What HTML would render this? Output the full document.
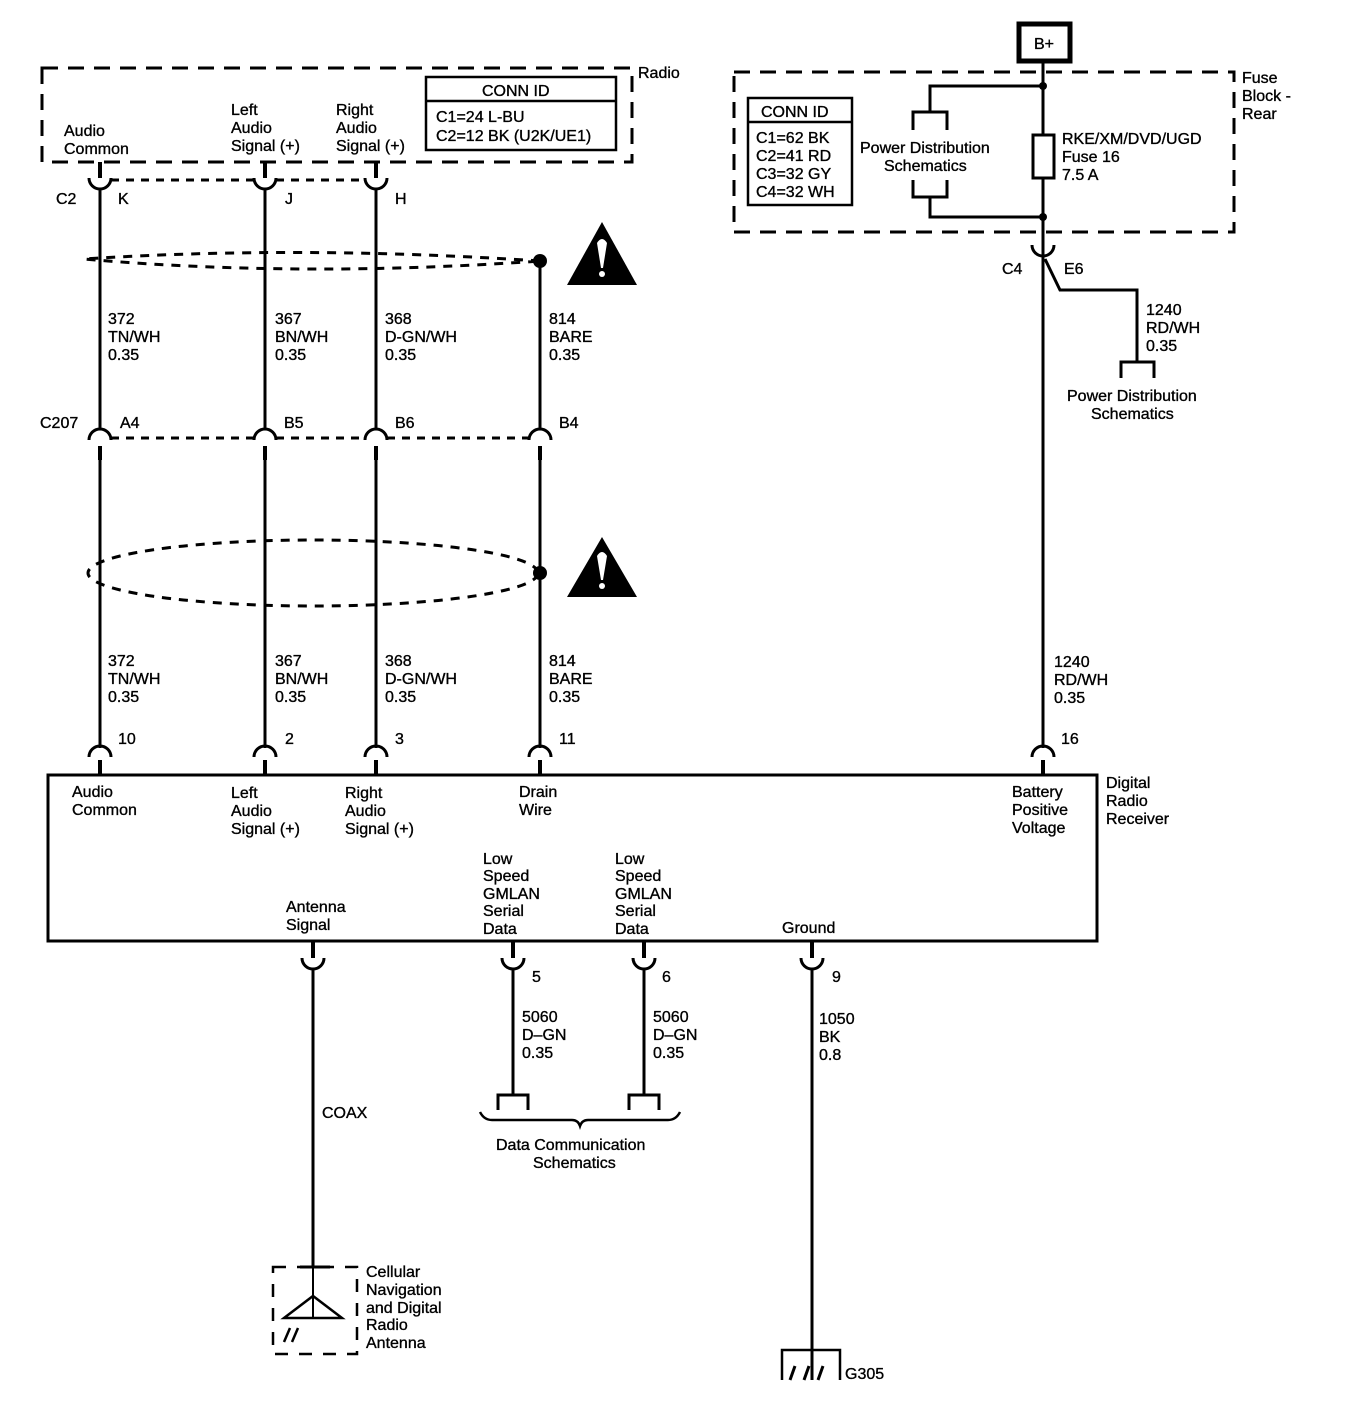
<!DOCTYPE html>
<html><head><meta charset="utf-8"><style>
html,body{margin:0;padding:0;background:#fff}
svg{display:block}
text{font-family:"Liberation Sans",Arial,sans-serif;font-size:16px;fill:#000;stroke:#000;stroke-width:0.35}
</style></head><body>
<svg width="1360" height="1408" viewBox="0 0 1360 1408" xmlns="http://www.w3.org/2000/svg">
<g fill="none" stroke="#000" stroke-width="3">
<rect x="42" y="68" width="590" height="94" stroke-dasharray="16,10"/>
<rect x="426" y="77" width="190" height="73" stroke-width="2.5"/>
<line x1="426" y1="101" x2="616" y2="101" stroke-width="2.5"/>
<g stroke-width="4">
<line x1="100" y1="162" x2="100" y2="178"/><line x1="265" y1="162" x2="265" y2="178"/><line x1="376" y1="162" x2="376" y2="178"/>
</g>
<path d="M89 178 A11 11 0 0 0 111 178 M254 178 A11 11 0 0 0 276 178 M365 178 A11 11 0 0 0 387 178"/>
<line x1="111" y1="180" x2="254" y2="180" stroke-dasharray="8,7"/>
<line x1="276" y1="180" x2="365" y2="180" stroke-dasharray="8,7"/>
<line x1="100" y1="188" x2="100" y2="430"/><line x1="265" y1="188" x2="265" y2="430"/><line x1="376" y1="188" x2="376" y2="430"/>
<line x1="540" y1="261" x2="540" y2="430"/>
<path d="M540 261 Q300 245 84 259 Q300 278 540 261" stroke-dasharray="9,8"/>
<path d="M89 440 A11 11 0 0 1 111 440 M254 440 A11 11 0 0 1 276 440 M365 440 A11 11 0 0 1 387 440 M529 440 A11 11 0 0 1 551 440"/>
<line x1="111" y1="438" x2="254" y2="438" stroke-dasharray="8,7"/>
<line x1="276" y1="438" x2="365" y2="438" stroke-dasharray="8,7"/>
<line x1="387" y1="438" x2="529" y2="438" stroke-dasharray="8,7"/>
<g stroke-width="4">
<line x1="100" y1="446" x2="100" y2="460"/><line x1="265" y1="446" x2="265" y2="460"/><line x1="376" y1="446" x2="376" y2="460"/><line x1="540" y1="446" x2="540" y2="460"/>
</g>
<line x1="100" y1="455" x2="100" y2="748"/><line x1="265" y1="455" x2="265" y2="748"/><line x1="376" y1="455" x2="376" y2="748"/><line x1="540" y1="455" x2="540" y2="748"/>
<ellipse cx="313" cy="573" rx="225" ry="33" stroke-dasharray="9,8"/>
<path d="M89 757 A11 11 0 0 1 111 757 M254 757 A11 11 0 0 1 276 757 M365 757 A11 11 0 0 1 387 757 M529 757 A11 11 0 0 1 551 757 M1032 757 A11 11 0 0 1 1054 757"/>
<g stroke-width="4">
<line x1="100" y1="760" x2="100" y2="776"/><line x1="265" y1="760" x2="265" y2="776"/><line x1="376" y1="760" x2="376" y2="776"/><line x1="540" y1="760" x2="540" y2="776"/><line x1="1043" y1="760" x2="1043" y2="776"/>
</g>
<rect x="48" y="775" width="1049" height="166"/>
<g stroke-width="4">
<line x1="313" y1="941" x2="313" y2="958"/><line x1="513" y1="941" x2="513" y2="958"/><line x1="644" y1="941" x2="644" y2="958"/><line x1="812" y1="941" x2="812" y2="958"/>
</g>
<path d="M302 958 A11 11 0 0 0 324 958 M502 958 A11 11 0 0 0 524 958 M633 958 A11 11 0 0 0 655 958 M801 958 A11 11 0 0 0 823 958"/>
<line x1="313" y1="968" x2="313" y2="1267"/>
<line x1="513" y1="968" x2="513" y2="1095"/>
<line x1="644" y1="968" x2="644" y2="1095"/>
<line x1="812" y1="968" x2="812" y2="1380"/>
<path d="M498 1110 V1095 H528 V1110 M629 1110 V1095 H659 V1110"/>
<path d="M480 1112 Q484 1120 492 1120 H572 Q578 1120 580 1126 Q582 1120 588 1120 H668 Q676 1120 680 1112" stroke-width="2.5"/>
<rect x="273" y="1267" width="84" height="87" stroke-dasharray="13,11" stroke-width="2.5"/>
<line x1="300" y1="1267" x2="330" y2="1267"/>
<line x1="313" y1="1267" x2="313" y2="1318" stroke-width="2"/>
<path d="M284 1318 L313 1296 L342 1318 Z" stroke-width="2.5"/>
<path d="M284 1342 l6 -14 M292 1342 l6 -14" stroke-width="2.5"/>
<path d="M782 1380 V1350 H840 V1380" stroke-width="2.5"/>
<path d="M790 1380 l5 -14 M804 1380 l5 -14 M818 1380 l5 -14" stroke-width="3"/>
<rect x="1019" y="24" width="51" height="37" stroke-width="5"/>
<rect x="734" y="72" width="500" height="160" stroke-dasharray="16,10"/>
<rect x="748" y="98" width="104" height="107" stroke-width="2.5"/>
<line x1="748" y1="122" x2="852" y2="122" stroke-width="2.5"/>
<line x1="1043" y1="62" x2="1043" y2="748"/>
<path d="M1043 86 H930 V112 M913 130 V112 H947 V130 M913 180 V197 H947 V180 M930 197 V217 H1043"/>
<rect x="1033" y="135" width="21" height="43" fill="#fff"/>
<path d="M1032 245 A11 11 0 0 0 1054 245"/>
<path d="M1045 259 L1060 290 H1137 V362 M1121 378 V362 H1154 V378"/>
</g>
<g fill="#000">
<circle cx="540" cy="261" r="7"/><circle cx="540" cy="573" r="7"/>
<circle cx="1043" cy="86" r="4"/><circle cx="1043" cy="217" r="4"/>
<path d="M602 222 L637 285 L567 285 Z"/><path d="M602 537 L637 597 L567 597 Z"/>
</g>
<g fill="#fff">
<path d="M597 243 Q602 235 607 243 L603 268 H601 Z"/><circle cx="602" cy="274" r="3"/>
<path d="M597 556 Q602 548 607 556 L603 580 H601 Z"/><circle cx="602" cy="586" r="3"/>
</g>
<text x="638" y="78">Radio</text>
<text x="482" y="96">CONN ID</text>
<text x="436" y="122">C1=24 L-BU</text>
<text x="436" y="141">C2=12 BK (U2K/UE1)</text>
<text x="64" y="136">Audio</text><text x="64" y="154">Common</text>
<text x="231" y="115">Left</text><text x="231" y="133">Audio</text><text x="231" y="151">Signal (+)</text>
<text x="336" y="115">Right</text><text x="336" y="133">Audio</text><text x="336" y="151">Signal (+)</text>
<text x="56" y="204">C2</text><text x="118" y="204">K</text><text x="285" y="204">J</text><text x="395" y="204">H</text>
<text x="108" y="324">372</text><text x="108" y="342">TN/WH</text><text x="108" y="360">0.35</text>
<text x="275" y="324">367</text><text x="275" y="342">BN/WH</text><text x="275" y="360">0.35</text>
<text x="385" y="324">368</text><text x="385" y="342">D-GN/WH</text><text x="385" y="360">0.35</text>
<text x="549" y="324">814</text><text x="549" y="342">BARE</text><text x="549" y="360">0.35</text>
<text x="40" y="428">C207</text><text x="120" y="428">A4</text><text x="284" y="428">B5</text><text x="395" y="428">B6</text><text x="559" y="428">B4</text>
<text x="108" y="666">372</text><text x="108" y="684">TN/WH</text><text x="108" y="702">0.35</text>
<text x="275" y="666">367</text><text x="275" y="684">BN/WH</text><text x="275" y="702">0.35</text>
<text x="385" y="666">368</text><text x="385" y="684">D-GN/WH</text><text x="385" y="702">0.35</text>
<text x="549" y="666">814</text><text x="549" y="684">BARE</text><text x="549" y="702">0.35</text>
<text x="1054" y="667">1240</text><text x="1054" y="685">RD/WH</text><text x="1054" y="703">0.35</text>
<text x="118" y="744">10</text><text x="285" y="744">2</text><text x="395" y="744">3</text><text x="559" y="744">11</text><text x="1061" y="744">16</text>
<text x="72" y="797">Audio</text><text x="72" y="815">Common</text>
<text x="231" y="798">Left</text><text x="231" y="816">Audio</text><text x="231" y="834">Signal (+)</text>
<text x="345" y="798">Right</text><text x="345" y="816">Audio</text><text x="345" y="834">Signal (+)</text>
<text x="519" y="797">Drain</text><text x="519" y="815">Wire</text>
<text x="1012" y="797">Battery</text><text x="1012" y="815">Positive</text><text x="1012" y="833">Voltage</text>
<text x="1106" y="788">Digital</text><text x="1106" y="806">Radio</text><text x="1106" y="824">Receiver</text>
<text x="286" y="912">Antenna</text><text x="286" y="930">Signal</text>
<text x="483" y="864">Low</text><text x="483" y="881">Speed</text><text x="483" y="899">GMLAN</text><text x="483" y="916">Serial</text><text x="483" y="934">Data</text>
<text x="615" y="864">Low</text><text x="615" y="881">Speed</text><text x="615" y="899">GMLAN</text><text x="615" y="916">Serial</text><text x="615" y="934">Data</text>
<text x="782" y="933">Ground</text>
<text x="532" y="982">5</text><text x="662" y="982">6</text><text x="832" y="982">9</text>
<text x="522" y="1022">5060</text><text x="522" y="1040">D–GN</text><text x="522" y="1058">0.35</text>
<text x="653" y="1022">5060</text><text x="653" y="1040">D–GN</text><text x="653" y="1058">0.35</text>
<text x="819" y="1024">1050</text><text x="819" y="1042">BK</text><text x="819" y="1060">0.8</text>
<text x="322" y="1118">COAX</text>
<text x="496" y="1150">Data Communication</text><text x="533" y="1168">Schematics</text>
<text x="366" y="1277">Cellular</text><text x="366" y="1295">Navigation</text><text x="366" y="1313">and Digital</text><text x="366" y="1330">Radio</text><text x="366" y="1348">Antenna</text>
<text x="845" y="1379">G305</text>
<text x="1034" y="49">B+</text>
<text x="1242" y="83">Fuse</text><text x="1242" y="101">Block -</text><text x="1242" y="119">Rear</text>
<text x="761" y="117">CONN ID</text>
<text x="756" y="143">C1=62 BK</text><text x="756" y="161">C2=41 RD</text><text x="756" y="179">C3=32 GY</text><text x="756" y="197">C4=32 WH</text>
<text x="860" y="153">Power Distribution</text><text x="884" y="171">Schematics</text>
<text x="1062" y="144">RKE/XM/DVD/UGD</text><text x="1062" y="162">Fuse 16</text><text x="1062" y="180">7.5 A</text>
<text x="1002" y="274">C4</text><text x="1064" y="274">E6</text>
<text x="1146" y="315">1240</text><text x="1146" y="333">RD/WH</text><text x="1146" y="351">0.35</text>
<text x="1067" y="401">Power Distribution</text><text x="1091" y="419">Schematics</text>
</svg>
</body></html>
